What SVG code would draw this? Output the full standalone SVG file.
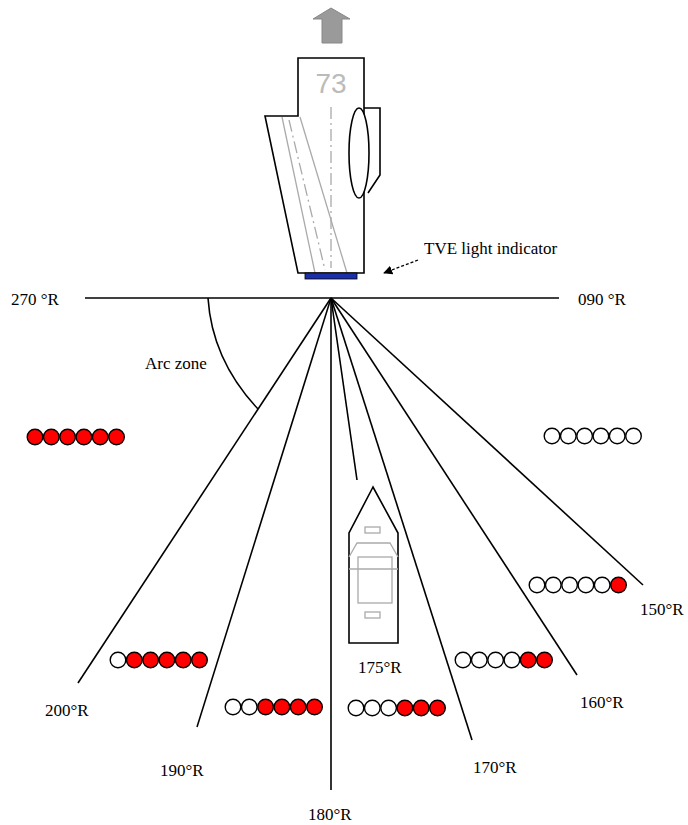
<svg xmlns="http://www.w3.org/2000/svg" width="688" height="825" viewBox="0 0 688 825">
<defs>
<style>
.lbl{font-family:"Liberation Serif","Times New Roman",serif;font-size:17px;fill:#000}
.ln{stroke:#000;stroke-width:1.6;fill:none}
.gr{stroke:#aaa;stroke-width:1.3;fill:none}
.red{fill:#ff0000;stroke:#000;stroke-width:1.4}
.wh{fill:#fff;stroke:#000;stroke-width:1.4}
</style>
<marker id="ah" viewBox="0 0 10 10" refX="9" refY="5" markerWidth="7" markerHeight="7" orient="auto">
<path d="M0,0 L10,5 L0,10 Z" fill="#000"/>
</marker>
</defs>
<rect width="688" height="825" fill="#fff"/>

<g id="aircraft">
<polygon points="331,8 350,19 342,19 342,43 322,43 322,19 313,19" fill="#9a9a9a" stroke="#888" stroke-width="1"/>
<text x="331" y="93" text-anchor="middle" font-family="Liberation Sans, Arial, sans-serif" font-size="28" fill="#bbb">73</text>
<line x1="331" y1="107" x2="331" y2="268" class="gr" stroke-dasharray="12,4,2,4"/>
<line x1="282" y1="117" x2="315" y2="273" class="gr"/>
<line x1="289" y1="120" x2="325" y2="270" class="gr" stroke-dasharray="12,4,2,4"/>
<line x1="300" y1="117" x2="347" y2="273" class="gr"/>
<path d="M298,116 V58 H364 V273 H298 L265,116 Z" class="ln"/>
<path d="M364,108 H380 V175 L368,193" class="ln"/>
<ellipse cx="359" cy="153" rx="10" ry="45" fill="#fff" stroke="#000" stroke-width="1.6"/>
<rect x="305" y="273" width="52" height="6" fill="#1a2fa8" stroke="#000" stroke-width="0.8"/>
</g>

<g id="tve-label">
<text x="424" y="254" class="lbl" font-size="15">TVE light indicator</text>
</g>

<g id="boat">
<path d="M373,487 L349,533 V643 H398 V533 Z" class="ln"/>
<rect x="365" y="527" width="15" height="6" class="gr"/>
<path d="M349,557 L357,543 H390 L398,557" class="gr"/>
<line x1="349" y1="569" x2="398" y2="569" class="gr"/>
<rect x="358" y="557" width="34" height="46" class="gr"/>
<rect x="365" y="612" width="15" height="6" class="gr"/>
</g>

<g id="connectors">
<line x1="85" y1="298" x2="559" y2="298" class="ln"/>
<line x1="331" y1="298" x2="78" y2="683" class="ln"/>
<line x1="331" y1="298" x2="197" y2="727" class="ln"/>
<line x1="331" y1="298" x2="331" y2="790" class="ln"/>
<line x1="331" y1="298" x2="357" y2="480" class="ln"/>
<line x1="331" y1="298" x2="472" y2="740" class="ln"/>
<line x1="331" y1="298" x2="577" y2="675" class="ln"/>
<line x1="331" y1="298" x2="643" y2="585" class="ln"/>
<path d="M208,298 Q212,360 258,409" class="ln"/>
<line x1="418" y1="260" x2="384" y2="273" stroke="#000" stroke-width="1.3" stroke-dasharray="3,2" marker-end="url(#ah)"/>
</g>

<g id="labels">
<text x="11" y="305" class="lbl">270 °R</text>
<text x="578" y="305" class="lbl">090 °R</text>
<text x="145" y="369" class="lbl" font-size="15">Arc zone</text>
<text x="45" y="716" class="lbl">200°R</text>
<text x="160" y="776" class="lbl">190°R</text>
<text x="308" y="820" class="lbl">180°R</text>
<text x="358" y="673" class="lbl">175°R</text>
<text x="473" y="773" class="lbl">170°R</text>
<text x="580" y="708" class="lbl">160°R</text>
<text x="640" y="615" class="lbl">150°R</text>
</g>

<g id="lights-270">
<circle cx="35" cy="437" r="7.8" class="red"/>
<circle cx="51.3" cy="437" r="7.8" class="red"/>
<circle cx="67.6" cy="437" r="7.8" class="red"/>
<circle cx="83.9" cy="437" r="7.8" class="red"/>
<circle cx="100.2" cy="437" r="7.8" class="red"/>
<circle cx="116.5" cy="437" r="7.8" class="red"/>
</g>
<g id="lights-090">
<circle cx="552" cy="436" r="7.8" class="wh"/>
<circle cx="568.3" cy="436" r="7.8" class="wh"/>
<circle cx="584.6" cy="436" r="7.8" class="wh"/>
<circle cx="600.9" cy="436" r="7.8" class="wh"/>
<circle cx="617.2" cy="436" r="7.8" class="wh"/>
<circle cx="633.5" cy="436" r="7.8" class="wh"/>
</g>
<g id="lights-150">
<circle cx="537" cy="585" r="7.8" class="wh"/>
<circle cx="553.3" cy="585" r="7.8" class="wh"/>
<circle cx="569.6" cy="585" r="7.8" class="wh"/>
<circle cx="585.9" cy="585" r="7.8" class="wh"/>
<circle cx="602.2" cy="585" r="7.8" class="wh"/>
<circle cx="618.5" cy="585" r="7.8" class="red"/>
</g>
<g id="lights-200">
<circle cx="118" cy="660" r="7.8" class="wh"/>
<circle cx="134.3" cy="660" r="7.8" class="red"/>
<circle cx="150.6" cy="660" r="7.8" class="red"/>
<circle cx="166.9" cy="660" r="7.8" class="red"/>
<circle cx="183.2" cy="660" r="7.8" class="red"/>
<circle cx="199.5" cy="660" r="7.8" class="red"/>
</g>
<g id="lights-190">
<circle cx="233" cy="707" r="7.8" class="wh"/>
<circle cx="249.3" cy="707" r="7.8" class="wh"/>
<circle cx="265.6" cy="707" r="7.8" class="red"/>
<circle cx="281.9" cy="707" r="7.8" class="red"/>
<circle cx="298.2" cy="707" r="7.8" class="red"/>
<circle cx="314.5" cy="707" r="7.8" class="red"/>
</g>
<g id="lights-175">
<circle cx="356" cy="708" r="7.8" class="wh"/>
<circle cx="372.3" cy="708" r="7.8" class="wh"/>
<circle cx="388.6" cy="708" r="7.8" class="wh"/>
<circle cx="404.9" cy="708" r="7.8" class="red"/>
<circle cx="421.2" cy="708" r="7.8" class="red"/>
<circle cx="437.5" cy="708" r="7.8" class="red"/>
</g>
<g id="lights-160">
<circle cx="463" cy="660" r="7.8" class="wh"/>
<circle cx="479.3" cy="660" r="7.8" class="wh"/>
<circle cx="495.6" cy="660" r="7.8" class="wh"/>
<circle cx="511.9" cy="660" r="7.8" class="wh"/>
<circle cx="528.2" cy="660" r="7.8" class="red"/>
<circle cx="544.5" cy="660" r="7.8" class="red"/>
</g>
</svg>
